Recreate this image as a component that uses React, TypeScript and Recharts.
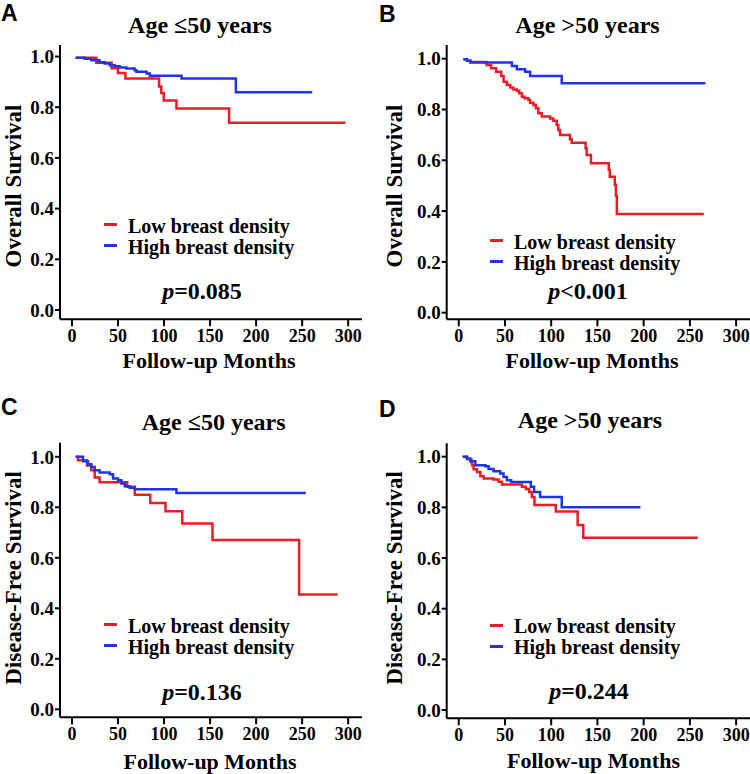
import React from 'react'
import { LineChart, Line, XAxis, YAxis, Legend } from 'recharts'

const RED = '#ec1c24'
const BLUE = '#1f35e3'
const SERIF = '"Liberation Serif", "Times New Roman", serif'
const SANS = '"Liberation Sans", Arial, sans-serif'

const xTicks = [0, 50, 100, 150, 200, 250, 300]
const yTicks = [0, 0.2, 0.4, 0.6, 0.8, 1.0]
const seriesNames = ['Low breast density', 'High breast density']

// A - overall survival, age <= 50
const osYoungLowMonths = [4, 26.5, 43, 50, 58, 94.6, 97, 99.7, 113.5, 170.7, 297]
const osYoungLowSurv = [0.995, 0.975, 0.954, 0.935, 0.913, 0.882, 0.856, 0.826, 0.795, 0.739, 0.739]
const osYoungHighMonths = [4, 13.8, 21, 30, 35.5, 41, 46.4, 51.8, 59, 68, 70, 81, 84.5, 119, 178, 261]
const osYoungHighSurv = [0.995, 0.991, 0.985, 0.977, 0.972, 0.966, 0.962, 0.957, 0.953, 0.946, 0.94, 0.933, 0.924, 0.913, 0.859, 0.859]

// B - overall survival, age > 50
const osOldLowMonths = [5, 9, 12.6, 30, 35, 40.5, 46, 48.5, 52.1, 55.7, 59.2, 62.9, 65.4, 68.3, 71.1, 75.4, 77.2, 80.8, 83.4, 86.2, 89.8, 98.8, 102.3, 106, 107.7, 109.6, 120.3, 122.2, 137.2, 138.3, 143, 162.3, 163.4, 168.8, 170, 171, 265]
const osOldLowSurv = [0.998, 0.992, 0.987, 0.975, 0.962, 0.949, 0.932, 0.909, 0.896, 0.887, 0.879, 0.874, 0.864, 0.85, 0.844, 0.837, 0.827, 0.818, 0.805, 0.785, 0.772, 0.765, 0.756, 0.739, 0.719, 0.7, 0.683, 0.669, 0.647, 0.621, 0.588, 0.562, 0.535, 0.503, 0.46, 0.389, 0.389]
const osOldHighMonths = [5, 9, 12.6, 57.5, 62.9, 71.8, 77.2, 111.4, 266.8]
const osOldHighSurv = [0.998, 0.992, 0.985, 0.971, 0.958, 0.949, 0.932, 0.903, 0.903]

// C - disease-free survival, age <= 50
const dfsYoungLowMonths = [4, 6.5, 16.3, 21, 24.7, 30, 60, 68.3, 85, 101.6, 119.8, 152.6, 246.7, 288.5]
const dfsYoungLowSurv = [1.0, 0.986, 0.966, 0.947, 0.918, 0.899, 0.881, 0.85, 0.817, 0.784, 0.736, 0.67, 0.455, 0.455]
const dfsYoungHighMonths = [4, 12, 17.4, 21, 24.7, 30, 41, 44.6, 50, 53.7, 57.3, 62.7, 68.2, 113.5, 254]
const dfsYoungHighSurv = [1.0, 0.982, 0.97, 0.96, 0.947, 0.938, 0.931, 0.914, 0.907, 0.894, 0.883, 0.877, 0.871, 0.857, 0.857]

// D - disease-free survival, age > 50
const dfsOldLowMonths = [4.3, 9, 13.7, 14.4, 16.1, 19.7, 23.4, 27, 37.7, 43.1, 46.8, 68.3, 72.6, 76.2, 79.1, 81.9, 105, 128.6, 134.7, 258.5]
const dfsOldLowSurv = [1.0, 0.99, 0.979, 0.966, 0.95, 0.94, 0.923, 0.914, 0.91, 0.901, 0.89, 0.881, 0.872, 0.861, 0.841, 0.809, 0.784, 0.73, 0.68, 0.68]
const dfsOldHighMonths = [4.3, 9, 12.6, 18, 28.8, 32.3, 37.7, 44.9, 48.5, 52.1, 56.7, 78, 81.5, 88, 111.4, 196.5]
const dfsOldHighSurv = [1.0, 0.993, 0.982, 0.966, 0.962, 0.951, 0.943, 0.934, 0.92, 0.907, 0.9, 0.881, 0.861, 0.841, 0.8, 0.8]

const toPoints = (months: number[], surv: number[]) =>
  months.map((m, i) => ({ month: m, surv: surv[i] }))

const panels = [
  {
    letter: 'A', title: 'Age \u226450 years', yLabel: 'Overall Survival', pSign: '=', pValue: '0.085',
    low: toPoints(osYoungLowMonths, osYoungLowSurv), high: toPoints(osYoungHighMonths, osYoungHighSurv),
    left: 0, top: 0, height: 387,
    margin: { top: 45, left: 10, right: 13, bottom: 37.7 }, yDomain: [-0.0367, 1.0454],
    letterPos: [1, 21], titlePos: [200, 33], legendPos: [104, 215.7], pPos: [202, 299],
    xLabelPos: [209, 368], yLabelPos: [20.8, 186],
  },
  {
    letter: 'B', title: 'Age >50 years', yLabel: 'Overall Survival', pSign: '<', pValue: '0.001',
    low: toPoints(osOldLowMonths, osOldLowSurv), high: toPoints(osOldHighMonths, osOldHighSurv),
    left: 375, top: 0, height: 387,
    margin: { top: 45, left: 21.7, right: 0, bottom: 37.7 }, yDomain: [-0.026, 1.0539],
    letterPos: [4, 22], titlePos: [212.5, 33], legendPos: [115, 231.7], pPos: [213, 299],
    xLabelPos: [217, 368], yLabelPos: [27, 186],
  },
  {
    letter: 'C', title: 'Age \u226450 years', yLabel: 'Disease-Free Survival', pSign: '=', pValue: '0.136',
    low: toPoints(dfsYoungLowMonths, dfsYoungLowSurv), high: toPoints(dfsYoungHighMonths, dfsYoungHighSurv),
    left: 0, top: 390, height: 384,
    margin: { top: 52.7, left: 10, right: 13, bottom: 26.7 }, yDomain: [-0.0317, 1.0558],
    letterPos: [1, 25], titlePos: [213.7, 40], legendPos: [104, 225.7], pPos: [202, 310],
    xLabelPos: [210, 379], yLabelPos: [20.8, 188],
  },
  {
    letter: 'D', title: 'Age >50 years', yLabel: 'Disease-Free Survival', pSign: '=', pValue: '0.244',
    low: toPoints(dfsOldLowMonths, dfsOldLowSurv), high: toPoints(dfsOldHighMonths, dfsOldHighSurv),
    left: 375, top: 390, height: 384,
    margin: { top: 53.3, left: 21.7, right: 0, bottom: 25.7 }, yDomain: [-0.0328, 1.0529],
    letterPos: [4, 27], titlePos: [215, 38], legendPos: [115, 226.4], pPos: [214, 309],
    xLabelPos: [218.5, 378], yLabelPos: [27, 188],
  },
]

function KmLegend({ payload }: any) {
  // keep the series order (Low first), not the alphabetical one
  const items = [...(payload || [])].sort(
    (a: any, b: any) => seriesNames.indexOf(a.value) - seriesNames.indexOf(b.value)
  )
  return (
    <div style={{ fontFamily: SERIF, fontWeight: 'bold', fontSize: 20, color: '#000' }}>
      {items.map((p: any) => (
        <div key={p.value} style={{ display: 'flex', alignItems: 'center', height: 21, lineHeight: '21px', whiteSpace: 'nowrap' }}>
          <span style={{ display: 'inline-block', width: 13, height: 3, background: p.color, marginRight: 11, position: 'relative', top: -1.5 }} />
          <span>{p.value}</span>
        </div>
      ))}
    </div>
  )
}

const tickStyle = { fill: '#000', fontFamily: SERIF, fontWeight: 'bold' }
const textStyle = { fontFamily: SERIF, fontWeight: 'bold', fill: '#000' }

function KmPanel({ cfg }: { cfg: any }) {
  return (
    <div style={{ position: 'absolute', left: cfg.left, top: cfg.top }}>
      <LineChart width={375} height={cfg.height} margin={cfg.margin}>
        <XAxis
          type="number" dataKey="month" domain={[-13, 315]} ticks={xTicks} interval={0} allowDataOverflow
          height={30} tickSize={7} tickMargin={3}
          axisLine={{ stroke: '#000', strokeWidth: 2 }} tickLine={{ stroke: '#000', strokeWidth: 2 }}
          tick={{ ...tickStyle, fontSize: 18 }}
        />
        <YAxis
          type="number" domain={cfg.yDomain} ticks={yTicks} interval={0} allowDataOverflow
          width={50} tickSize={5} tickMargin={1} tickFormatter={(v: number) => v.toFixed(1)}
          axisLine={{ stroke: '#000', strokeWidth: 2 }} tickLine={{ stroke: '#000', strokeWidth: 2 }}
          tick={{ ...tickStyle, fontSize: 19 }}
        />
        <Legend
          layout="horizontal" verticalAlign="middle" align="center" content={<KmLegend />}
          wrapperStyle={{ left: cfg.legendPos[0], top: cfg.legendPos[1], width: 260, height: 42 }}
        />
        <Line data={cfg.low} dataKey="surv" name={seriesNames[0]} type="stepAfter" stroke={RED} strokeWidth={2.5} dot={false} isAnimationActive={false} />
        <Line data={cfg.high} dataKey="surv" name={seriesNames[1]} type="stepAfter" stroke={BLUE} strokeWidth={2.5} dot={false} isAnimationActive={false} />
        <text x={cfg.letterPos[0]} y={cfg.letterPos[1]} fontFamily={SANS} fontWeight="bold" fontSize={23} fill="#000">{cfg.letter}</text>
        <text x={cfg.titlePos[0]} y={cfg.titlePos[1]} textAnchor="middle" fontSize={24} style={textStyle}>{cfg.title}</text>
        <text x={cfg.pPos[0]} y={cfg.pPos[1]} textAnchor="middle" fontSize={24} style={textStyle}>
          <tspan fontStyle="italic">p</tspan>
          <tspan>{cfg.pSign + cfg.pValue}</tspan>
        </text>
        <text x={cfg.xLabelPos[0]} y={cfg.xLabelPos[1]} textAnchor="middle" fontSize={22} style={textStyle}>Follow-up Months</text>
        <text
          x={cfg.yLabelPos[0]} y={cfg.yLabelPos[1]} textAnchor="middle" fontSize={23} style={textStyle}
          transform={`rotate(-90 ${cfg.yLabelPos[0]} ${cfg.yLabelPos[1]})`}
        >
          {cfg.yLabel}
        </text>
      </LineChart>
    </div>
  )
}

export default function App() {
  return (
    <div style={{ position: 'absolute', left: 0, top: 0, width: 750, height: 774, background: '#fff' }}>
      {panels.map(p => (
        <KmPanel key={p.letter} cfg={p} />
      ))}
    </div>
  )
}
